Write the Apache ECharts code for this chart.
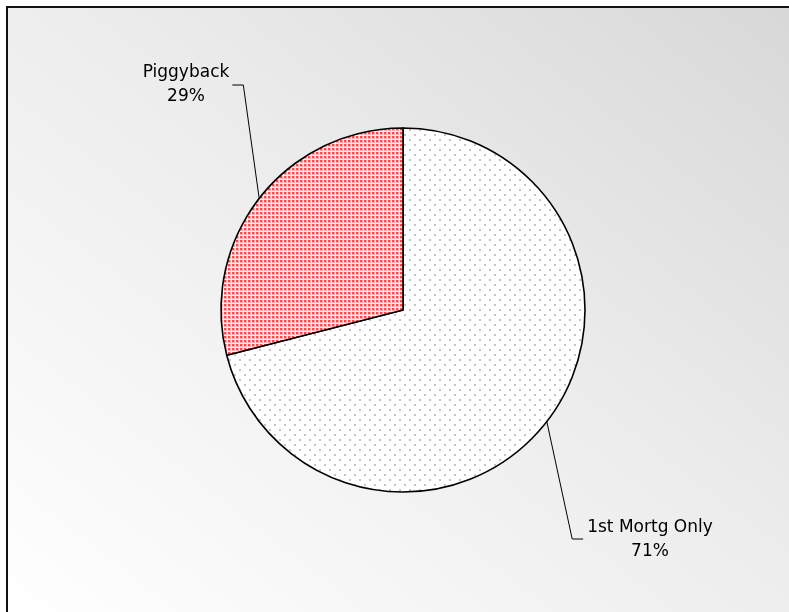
<!DOCTYPE html>
<html>
<head>
<meta charset="utf-8">
<script src="https://cdn.jsdelivr.net/npm/echarts@6/dist/echarts.min.js"></script>
<style>
  html, body { margin: 0; padding: 0; background: #ffffff; width: 789px; height: 612px; overflow: hidden; }
  #wrap {
    position: absolute; left: 6px; top: 6px; width: 783px; height: 606px;
    border-left: 2px solid #111; border-top: 2px solid #111;
    background: linear-gradient(to top right, #ffffff 0%, #ececec 55%, #d8d8d8 100%);
  }
  #chart { position: absolute; left: 0; top: 0; width: 783px; height: 606px; }
</style>
</head>
<body>
<div id="wrap"><div id="chart"></div></div>
<script>
// ---- data ----
const categories = ['1st Mortg Only', 'Piggyback'];
const values = [71, 29];

// ---- patterns ----
function makeRedPattern() {
  const c = document.createElement('canvas');
  c.width = 4; c.height = 4;
  const g = c.getContext('2d');
  g.fillStyle = '#fff0f0'; g.fillRect(0, 0, 4, 4);
  g.fillStyle = '#ffaaaa'; g.fillRect(0, 0, 3, 3);
  g.fillStyle = '#ff4545'; g.fillRect(0, 0, 2, 2);
  return c;
}
function makeGreyPattern() {
  const c = document.createElement('canvas');
  c.width = 10; c.height = 10;
  const g = c.getContext('2d');
  g.fillStyle = '#ffffff'; g.fillRect(0, 0, 10, 10);
  g.fillStyle = '#c4c4c4';
  g.fillRect(1, 1, 2, 2);
  g.fillRect(6, 6, 2, 2);
  return c;
}
const fills = [
  { image: makeGreyPattern(), repeat: 'repeat' },
  { image: makeRedPattern(), repeat: 'repeat' }
];

// label placement (layout, chart-local coordinates)
const labelPlace = [
  { x: 642, y: 532, side: 'right' },
  { x: 178, y: 77, side: 'left' }
];

const chart = echarts.init(document.getElementById('chart'), null, { renderer: 'canvas' });
chart.setOption({
  animation: false,
  backgroundColor: 'transparent',
  series: [{
    type: 'pie',
    center: [395, 302],
    radius: [0, 182],
    startAngle: 90,
    clockwise: true,
    silent: true,
    emphasis: { disabled: true },
    percentPrecision: 0,
    itemStyle: { borderColor: '#000', borderWidth: 1.6 },
    label: {
      show: true,
      position: 'outside',
      formatter: '{b}\n{d}%',
      fontFamily: 'DejaVu Sans',
      fontSize: 17,
      lineHeight: 24,
      color: '#000',
      align: 'center'
    },
    labelLine: { show: true, length: 20, length2: 10, lineStyle: { color: '#000', width: 1 } },
    labelLayout: function (params) {
      const p = labelPlace[params.dataIndex];
      const w = params.labelRect.width;
      const start = params.labelLinePoints ? params.labelLinePoints[0] : null;
      let end, elbow;
      if (p.side === 'left') {
        end = [p.x + w / 2 + 3, p.y];
        elbow = [end[0] + 11, end[1]];
      } else {
        end = [p.x - w / 2 - 4, p.y - 1];
        elbow = [end[0] - 11, end[1]];
      }
      const out = { x: p.x, y: p.y, align: 'center', verticalAlign: 'middle' };
      if (start) out.labelLinePoints = [start, elbow, end];
      return out;
    },
    data: categories.map((name, i) => ({
      name: name,
      value: values[i],
      itemStyle: { color: fills[i] }
    }))
  }]
});
</script>
</body>
</html>
